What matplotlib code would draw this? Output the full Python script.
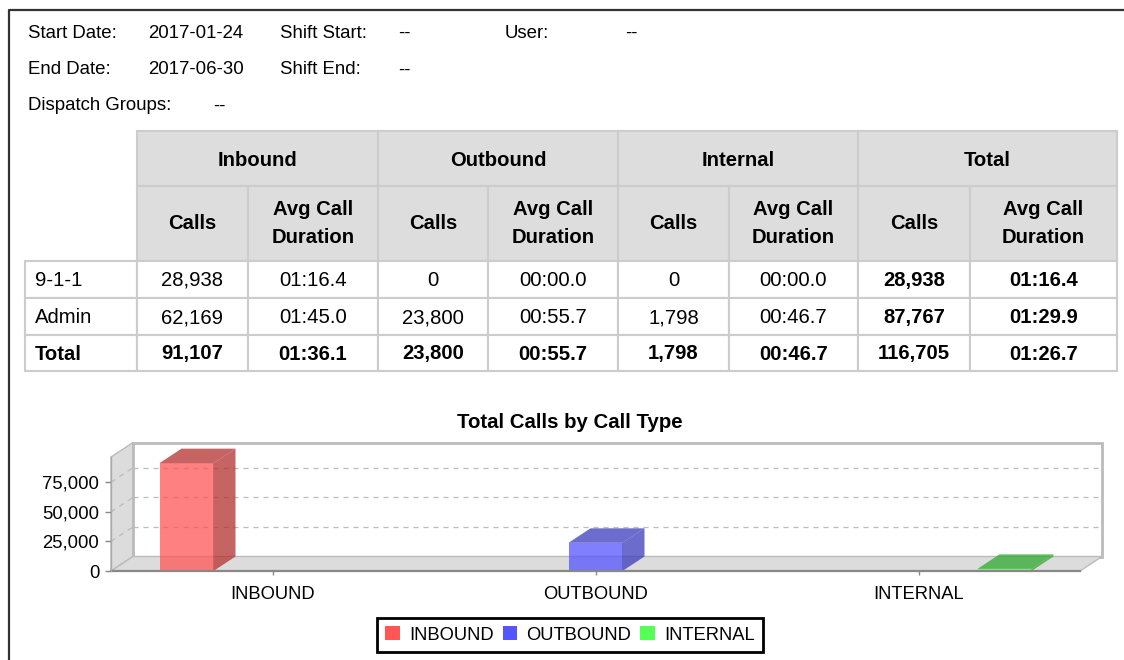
import matplotlib
matplotlib.use('Agg')
import matplotlib.pyplot as plt
from matplotlib.patches import Rectangle, Polygon, Patch
from matplotlib.ticker import FuncFormatter

plt.rcParams['font.family'] = ['Liberation Sans', 'DejaVu Sans']

# --- report data ---
header_labels = ['Start Date:', 'Shift Start:', 'User:', 'End Date:', 'Shift End:', 'Dispatch Groups:']
header_values = ['2017-01-24', '--', '--', '2017-06-30', '--', '--']

groups = ['Inbound', 'Outbound', 'Internal', 'Total']
sub_headers = ['Calls', 'Avg Call\nDuration']
row_labels = ['9-1-1', 'Admin', 'Total']
inbound_calls = [28938, 62169, 91107]
inbound_avg = ['01:16.4', '01:45.0', '01:36.1']
outbound_calls = [0, 23800, 23800]
outbound_avg = ['00:00.0', '00:55.7', '00:55.7']
internal_calls = [0, 1798, 1798]
internal_avg = ['00:00.0', '00:46.7', '00:46.7']
total_calls = [28938, 87767, 116705]
total_avg = ['01:16.4', '01:29.9', '01:26.7']

call_types = ['INBOUND', 'OUTBOUND', 'INTERNAL']
chart_values = [inbound_calls[-1], outbound_calls[-1], internal_calls[-1]]
y_ticks = [0, 25000, 50000, 75000]

W, H = 1124, 660
fig = plt.figure(figsize=(W / 100, H / 100), dpi=100)
bg = fig.add_axes([0, 0, 1, 1])
bg.set_xlim(0, W)
bg.set_ylim(H, 0)
bg.axis('off')

# outer frame (left + top only)
bg.plot([9, 9, W], [H, 10, 10], color='#333333', lw=1.6, solid_capstyle='butt')

# header block
hdr_pos = [(28, 148, 33), (280, 398, 33), (505, 625, 33),
           (28, 148, 70), (280, 398, 70), (28, 213, 106)]
for lab, val, (xl, xv, y) in zip(header_labels, header_values, hdr_pos):
    bg.text(xl, y, lab, fontsize=13.4, va='center', ha='left')
    bg.text(xv, y, val, fontsize=13.4, va='center', ha='left')

# table
col_x = [25, 137, 248, 378, 488, 618, 729, 858, 970, 1117]
row_y = [131, 186, 261, 298, 335, 371]
grid_c = '#CCCCCC'
head_bg = '#DDDDDD'
tfs = 14.6

for g, name in enumerate(groups):
    x0, x1 = col_x[1 + 2 * g], col_x[3 + 2 * g]
    bg.add_patch(Rectangle((x0, row_y[0]), x1 - x0, row_y[1] - row_y[0],
                           fc=head_bg, ec=grid_c, lw=1.5))
    bg.text((x0 + x1) / 2, (row_y[0] + row_y[1]) / 2 + 1.5, name, fontsize=tfs,
            fontweight='bold', ha='center', va='center')
    for k, sub in enumerate(sub_headers):
        c0, c1 = col_x[1 + 2 * g + k], col_x[2 + 2 * g + k]
        bg.add_patch(Rectangle((c0, row_y[1]), c1 - c0, row_y[2] - row_y[1],
                               fc=head_bg, ec=grid_c, lw=1.5))
        bg.text((c0 + c1) / 2, (row_y[1] + row_y[2]) / 2, sub, fontsize=tfs,
                fontweight='bold', ha='center', va='center', linespacing=1.6)

columns = [inbound_calls, inbound_avg, outbound_calls, outbound_avg,
           internal_calls, internal_avg, total_calls, total_avg]
for r, lab in enumerate(row_labels):
    y0, y1 = row_y[2 + r], row_y[3 + r]
    yc = (y0 + y1) / 2 + 1
    is_total = lab == 'Total'
    bg.add_patch(Rectangle((col_x[0], y0), col_x[1] - col_x[0], y1 - y0,
                           fc='white', ec=grid_c, lw=1.5))
    bg.text(col_x[0] + 10, yc, lab, fontsize=tfs, ha='left', va='center',
            fontweight='bold' if is_total else 'normal')
    for c, col in enumerate(columns):
        v = col[r]
        txt = f'{v:,}' if isinstance(v, int) else v
        x0, x1 = col_x[1 + c], col_x[2 + c]
        bg.add_patch(Rectangle((x0, y0), x1 - x0, y1 - y0, fc='white', ec=grid_c, lw=1.5))
        bold = is_total or c >= 6
        bg.text((x0 + x1) / 2, yc, txt, fontsize=tfs, ha='center', va='center',
                fontweight='bold' if bold else 'normal')

# chart title
bg.text(570, 423, 'Total Calls by Call Type', fontsize=14.7, fontweight='bold',
        ha='center', va='center')

# --- pseudo-3D bar chart ---
x_left, x_right, y_base, y_top = 111, 1080, 571, 457
ax = fig.add_axes([x_left / W, 1 - y_base / H, (x_right - x_left) / W, (y_base - y_top) / H])
xmin, xmax, ymax = -0.5, 2.5, 96300
ax.set_xlim(xmin, xmax)
ax.set_ylim(0, ymax)
ax.patch.set_visible(False)
for s in ax.spines.values():
    s.set_visible(False)

# depth of the 3D box expressed in data units
depth_px = (22, 14.5)
ddx = depth_px[0] * (xmax - xmin) / (x_right - x_left)
ddy = depth_px[1] * ymax / (y_base - y_top)

wall_c = '#DCDCDC'
edge_c = '#BBBBBB'
# left wall
ax.add_patch(Polygon([(xmin, 0), (xmin + ddx, ddy), (xmin + ddx, ymax + ddy), (xmin, ymax)],
                     closed=True, fc=wall_c, ec=edge_c, lw=1, clip_on=False, zorder=1))
# back wall
ax.add_patch(Rectangle((xmin + ddx, ddy), xmax - xmin, ymax, fc='white', ec=edge_c,
                       lw=2, clip_on=False, zorder=1))
# floor
ax.add_patch(Polygon([(xmin, 0), (xmax, 0), (xmax + ddx, ddy), (xmin + ddx, ddy)],
                     closed=True, fc=wall_c, ec=edge_c, lw=1, clip_on=False, zorder=2))

for t in y_ticks[1:]:
    ax.plot([xmin + ddx, xmax + ddx], [t + ddy, t + ddy], ls=(0, (4, 4)), color='#BBBBBB',
            lw=0.9, clip_on=False, zorder=2)
    ax.plot([xmin, xmin + ddx], [t, t + ddy], ls=(0, (4, 4)), color='#BBBBBB',
            lw=0.9, clip_on=False, zorder=2)

front_cols = ['#FF5555', '#5555FF', '#55FF55']
side_cols = ['#B43030', '#3B3BBB', '#30A830']
bar_w = 54 / 323
bar_off = 86 / 323
for i, v in enumerate(chart_values):
    x0 = i + (i - 1) * bar_off - bar_w / 2
    x1 = x0 + bar_w
    ax.add_patch(Rectangle((x0, 0), bar_w, v, fc=front_cols[i], ec='none', alpha=0.75,
                           clip_on=False, zorder=4))
    ax.add_patch(Polygon([(x1, 0), (x1 + ddx, ddy), (x1 + ddx, v + ddy), (x1, v)], closed=True,
                         fc=side_cols[i], ec='none', alpha=0.75, clip_on=False, zorder=4))
    ax.add_patch(Polygon([(x0, v), (x1, v), (x1 + ddx, v + ddy), (x0 + ddx, v + ddy)], closed=True,
                         fc=side_cols[i], ec='none', alpha=0.75, clip_on=False, zorder=4))

# front edge of the floor and left axis line
ax.plot([xmin, xmax], [0, 0], color='#888888', lw=1.6, clip_on=False, zorder=5)
ax.plot([xmin, xmin], [0, ymax], color='#AAAAAA', lw=1, clip_on=False, zorder=5)

ax.set_yticks(y_ticks)
ax.yaxis.set_major_formatter(FuncFormatter(lambda v, p: f'{int(v):,}'))
ax.set_xticks(range(len(call_types)))
ax.set_xticklabels(call_types)
ax.tick_params(axis='y', length=4, width=1, color='#888888', labelsize=13.3, pad=4.5)
ax.tick_params(axis='x', length=3, width=1, color='#888888', labelsize=13.2, pad=8)

handles = [Patch(fc=c, ec='none') for c in front_cols]
leg = fig.legend(handles, call_types, loc='center', bbox_to_anchor=(570 / W, 1 - 635 / H),
                 ncol=3, fancybox=False, edgecolor='black', framealpha=1, fontsize=13.2,
                 handlelength=0.8, handleheight=0.8, handletextpad=0.5, columnspacing=0.5,
                 borderpad=0.45, borderaxespad=0)
leg.get_frame().set_linewidth(2)

fig.savefig('out.png', dpi=100)
